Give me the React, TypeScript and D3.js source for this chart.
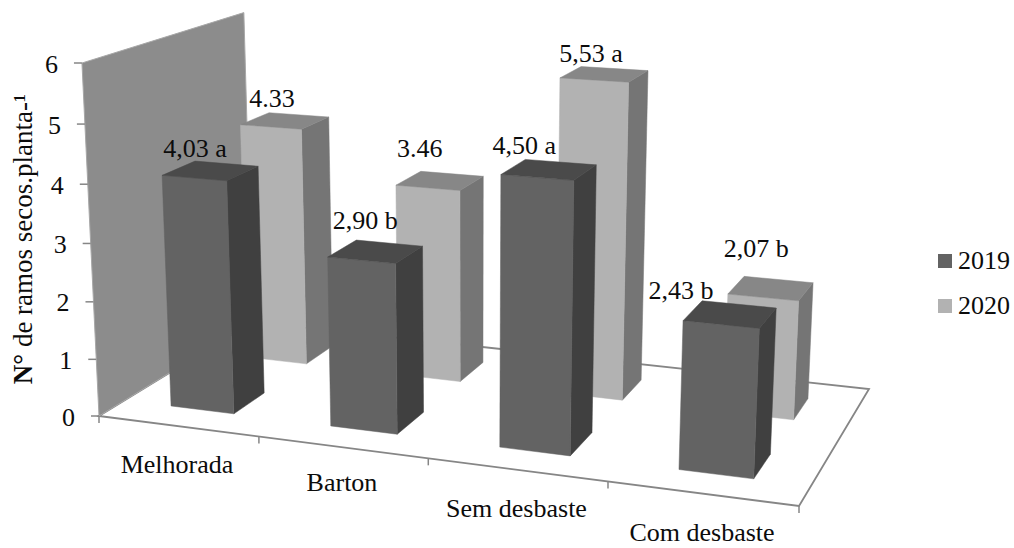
import React from "react";
import * as d3 from "d3";

const categories = ["Melhorada", "Barton", "Sem desbaste", "Com desbaste"];
const seriesNames = ["2019", "2020"];
const values2019 = [4.03, 2.9, 4.5, 2.43];
const values2020 = [4.33, 3.46, 5.53, 2.07];
const labels2019 = ["4,03 a", "2,90 b", "4,50 a", "2,43 b"];
const labels2020 = ["4.33", "3.46", "5,53 a", "2,07 b"];
const yTicks = [0, 1, 2, 3, 4, 5, 6];

const WIDTH = 1014;
const HEIGHT = 548;
const FONT = "'Liberation Serif', 'Times New Roman', serif";
const INK = "#0c0c0c";

// Screen positions of the floor corners (front-left, front-right, back-right,
// back-left), the height of the front wall edge, and where verticals converge.
const floorQuad: [number, number][] = [[99, 416], [799, 506], [869, 389], [252.5, 322]];
const wallFrontTopY = 63;
const verticalVanish: [number, number] = [470, 8100];

// Builds a perspective projection of the unit box (x along categories, y into depth, z up).
function buildProjection() {
  const [[x0, y0], [x1, y1], [x2, y2], [x3, y3]] = floorQuad;
  const dx1 = x1 - x2, dx2 = x3 - x2, sx = x0 - x1 + x2 - x3;
  const dy1 = y1 - y2, dy2 = y3 - y2, sy = y0 - y1 + y2 - y3;
  const den = dx1 * dy2 - dx2 * dy1;
  const g = (sx * dy2 - dx2 * sy) / den;
  const h = (dx1 * sy - sx * dy1) / den;
  const a = x1 - x0 + g * x1, b = x3 - x0 + h * x3, c = x0;
  const d = y1 - y0 + g * y1, e = y3 - y0 + h * y3, f = y0;
  const [vx, vy] = verticalVanish;
  const k = (wallFrontTopY - f) / (vy - wallFrontTopY);
  return (x: number, y: number, z: number): [number, number] => {
    const w = g * x + h * y + k * z + 1;
    return [(a * x + b * y + k * vx * z + c) / w, (d * x + e * y + k * vy * z + f) / w];
  };
}

const project = buildProjection();

const xBand = d3.scaleBand<string>().domain(categories).range([0, 1]).paddingInner(0.6).paddingOuter(0.3);
const depthBand = d3.scaleBand<string>().domain(seriesNames).range([0, 1]).paddingInner(0.6).paddingOuter(0.3);
const zScale = d3.scaleLinear().domain([0, 6]).range([0, 1]);

const line = d3.line();
const poly = (pts: [number, number][]) => line(pts) + "Z";

const palette = [
  { front: "#636363", side: "#404040", top: "#4a4a4a" },
  { front: "#b2b2b2", side: "#757575", top: "#878787" },
];
const wallFill = "#8c8c8c";
const axisStroke = "#868686";

// Label nudges from the rear-left top corner of each column
const nudge2019: [number, number][] = [[0, -4], [9, -11], [-1, -5], [-21, -2]];
const nudge2020: [number, number][] = [[3, -6], [-1, -14], [10, -5], [12, -19]];

function Column({ cat, series, value }: { cat: number; series: number; value: number }) {
  const x0 = xBand(categories[cat])!, x1 = x0 + xBand.bandwidth();
  const y0 = depthBand(seriesNames[series])!, y1 = y0 + depthBand.bandwidth();
  const z = zScale(value);
  const c = palette[series];
  const front: [number, number][] = [project(x0, y0, 0), project(x1, y0, 0), project(x1, y0, z), project(x0, y0, z)];
  const side: [number, number][] = [project(x1, y0, 0), project(x1, y1, 0), project(x1, y1, z), project(x1, y0, z)];
  const top: [number, number][] = [project(x0, y0, z), project(x1, y0, z), project(x1, y1, z), project(x0, y1, z)];
  return (
    <g>
      <path d={poly(side)} fill={c.side} stroke={c.side} strokeWidth={0.5} />
      <path d={poly(front)} fill={c.front} stroke={c.front} strokeWidth={0.5} />
      <path d={poly(top)} fill={c.top} stroke={c.top} strokeWidth={0.5} />
    </g>
  );
}

function ValueLabel({ cat, series, value, text, nudge }: { cat: number; series: number; value: number; text: string; nudge: [number, number] }) {
  const x0 = xBand(categories[cat])!;
  const y1 = depthBand(seriesNames[series])! + depthBand.bandwidth();
  const [px, py] = project(x0, y1, zScale(value));
  return (
    <text x={px + nudge[0]} y={py + nudge[1]} textAnchor="middle" fontFamily={FONT} fontSize={26} fill={INK}>
      {text}
    </text>
  );
}

const categoryLabelPos: [number, number][] = [[177, 473], [342, 491], [516.5, 517], [702, 541]];
const legendRows = [{ y: 254 }, { y: 299 }];

export default function App() {
  const wall: [number, number][] = [project(0, 0, 0), project(0, 1, 0), project(0, 1, 1), project(0, 0, 1)];
  const floorPath = poly([project(0, 0, 0), project(1, 0, 0), project(1, 1, 0), project(0, 1, 0)]);
  const xTicks = d3.range(categories.length + 1).map((i) => i / categories.length);
  const order = [1, 0];
  return (
    <svg width={WIDTH} height={HEIGHT} style={{ position: "absolute", left: 0, top: 0, background: "#fff" }}>
      <path d={floorPath} fill="#fff" stroke={axisStroke} strokeWidth={1.8} />
      <path d={poly(wall)} fill={wallFill} stroke="#a8a8a8" strokeWidth={1} />

      {yTicks.map((t) => {
        const [px, py] = project(0, 0, zScale(t));
        return (
          <g key={t}>
            <line x1={px - 8} x2={px} y1={py} y2={py} stroke={axisStroke} strokeWidth={1.5} />
            <text x={px - 24} y={py + 9.5} textAnchor="end" fontFamily={FONT} fontSize={26} fill={INK}>{t}</text>
          </g>
        );
      })}
      {xTicks.map((t) => {
        const [px, py] = project(t, 0, 0);
        return <line key={t} x1={px} x2={px} y1={py} y2={py + 7} stroke={axisStroke} strokeWidth={1.5} />;
      })}

      {order.map((s) =>
        categories.map((_, i) => (
          <Column key={`${s}-${i}`} cat={i} series={s} value={(s === 0 ? values2019 : values2020)[i]} />
        ))
      )}

      {categories.map((_, i) => (
        <g key={i}>
          <ValueLabel cat={i} series={1} value={values2020[i]} text={labels2020[i]} nudge={nudge2020[i]} />
          <ValueLabel cat={i} series={0} value={values2019[i]} text={labels2019[i]} nudge={nudge2019[i]} />
        </g>
      ))}

      {categories.map((c, i) => (
        <text key={c} x={categoryLabelPos[i][0]} y={categoryLabelPos[i][1]} textAnchor="middle" fontFamily={FONT} fontSize={26} fill={INK}>
          {c}
        </text>
      ))}

      <text transform="translate(32,239) rotate(-90)" textAnchor="middle" fontFamily={FONT} fontSize={27} fill={INK}>
        <tspan fontWeight="bold">N°</tspan> de ramos secos.planta-¹
      </text>

      {seriesNames.map((s, i) => (
        <g key={s}>
          <rect x={938} y={legendRows[i].y} width={14} height={14} fill={palette[i].front} />
          <text x={958} y={legendRows[i].y + 15} fontFamily={FONT} fontSize={26} fill={INK}>{s}</text>
        </g>
      ))}
    </svg>
  );
}
